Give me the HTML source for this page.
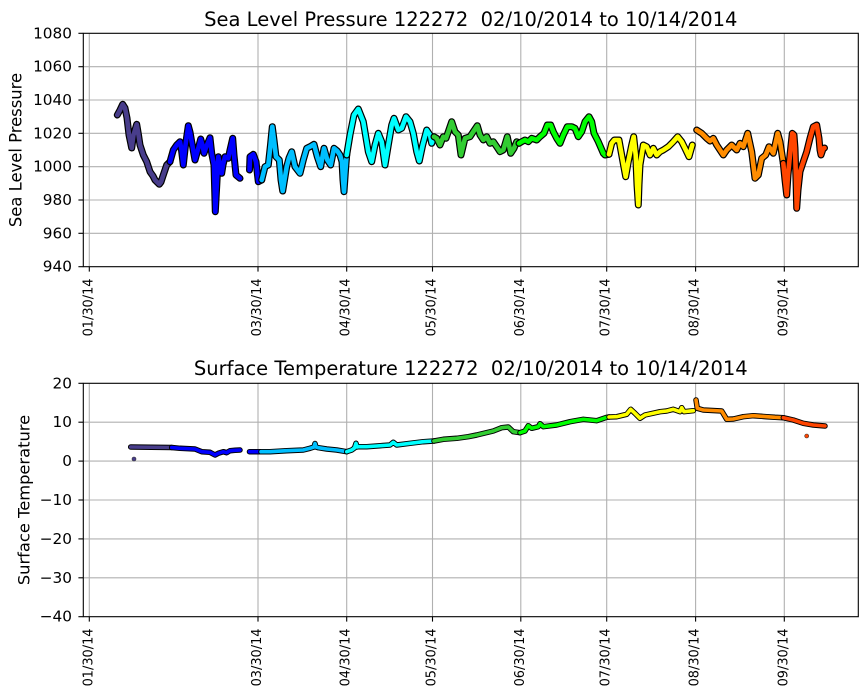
<!DOCTYPE html>
<html><head><meta charset="utf-8"><style>
html,body{margin:0;padding:0;background:#fff;}
svg{display:block;font-family:"DejaVu Sans","Liberation Sans",sans-serif;}
.g{stroke:#b0b0b0;stroke-width:1.1;}
.k{fill:none;stroke:#000;stroke-linejoin:round;stroke-linecap:round;}
.c{fill:none;stroke-linejoin:round;stroke-linecap:round;}
.top .k{stroke-width:7;}
.top .c{stroke-width:4.6;}
.bot .k{stroke-width:5.5;}
.bot .c{stroke-width:3.6;}
.yt{font-size:15.3px;text-anchor:end;dominant-baseline:central;fill:#000;}
.xt{font-size:12.9px;text-anchor:end;dominant-baseline:central;fill:#000;}
</style></head><body>
<svg width="867" height="700" viewBox="0 0 867 700" xmlns="http://www.w3.org/2000/svg">
<rect width="867" height="700" fill="#fff"/>

<!-- ================= TOP AXES ================= -->
<g>
<g class="g">
<line x1="89.3" y1="33.3" x2="89.3" y2="266.7"/>
<line x1="258" y1="33.3" x2="258" y2="266.7"/>
<line x1="346.7" y1="33.3" x2="346.7" y2="266.7"/>
<line x1="432.5" y1="33.3" x2="432.5" y2="266.7"/>
<line x1="520.8" y1="33.3" x2="520.8" y2="266.7"/>
<line x1="606.7" y1="33.3" x2="606.7" y2="266.7"/>
<line x1="695.6" y1="33.3" x2="695.6" y2="266.7"/>
<line x1="784.3" y1="33.3" x2="784.3" y2="266.7"/>
<line x1="83.3" y1="66.7" x2="858.3" y2="66.7"/>
<line x1="83.3" y1="100" x2="858.3" y2="100"/>
<line x1="83.3" y1="133.3" x2="858.3" y2="133.3"/>
<line x1="83.3" y1="166.7" x2="858.3" y2="166.7"/>
<line x1="83.3" y1="200" x2="858.3" y2="200"/>
<line x1="83.3" y1="233.3" x2="858.3" y2="233.3"/>
</g>

<g class="top">
<polyline class="k" points="117.3,115 120,110 122.7,104.3 125,108 127,118 129,135 131.7,148 133.5,135 136.7,124.3 138.5,135 140,145 143.3,155 146.7,161.7 150,171.7 153,176 155,180 157,182 159.3,184.3 161,182 163.3,175 166.7,165 170,161.7"/>
<polyline class="c" stroke="#483D8B" points="117.3,115 120,110 122.7,104.3 125,108 127,118 129,135 131.7,148 133.5,135 136.7,124.3 138.5,135 140,145 143.3,155 146.7,161.7 150,171.7 153,176 155,180 157,182 159.3,184.3 161,182 163.3,175 166.7,165 170,161.7"/>

<polyline class="k" points="170,161.7 173.3,150 176.7,145 180,141.7 181.5,150 183.3,165 185.5,145 188.3,125.7 190,132 191.7,141.7 195,160 198.3,148.3 200.7,139 202.5,145 204,153.3 206.7,145.7 210,137.7 211.7,153.3 214,165 215.3,211.7 216.5,190 218.3,156.7 220,165 221.7,173.3 223,165 225,156.7 228.3,158.3 230,150 232.7,138.3 234,155 236,175 240,178.3"/>
<polyline class="c" stroke="#0000FF" points="170,161.7 173.3,150 176.7,145 180,141.7 181.5,150 183.3,165 185.5,145 188.3,125.7 190,132 191.7,141.7 195,160 198.3,148.3 200.7,139 202.5,145 204,153.3 206.7,145.7 210,137.7 211.7,153.3 214,165 215.3,211.7 216.5,190 218.3,156.7 220,165 221.7,173.3 223,165 225,156.7 228.3,158.3 230,150 232.7,138.3 234,155 236,175 240,178.3"/>

<polyline class="k" points="249.5,170 250,156.7 253.3,154.3 256,161.7 258.3,181.7 261.7,180"/>
<polyline class="c" stroke="#0000FF" points="249.5,170 250,156.7 253.3,154.3 256,161.7 258.3,181.7 261.7,180"/>

<polyline class="k" points="261.7,180 265,166.7 268.3,165 270.5,145 272.3,126.7 274,140 276,156.7 279.3,160 281,180 282.7,191 284.5,180 286.7,166.7 289,158 291.7,151.7 295,166.7 300,173.3 303.3,160 306.7,148.3 310,146.7 314,144.3 317.3,156.7 320.7,166.7 324,148.3 327.3,160 330.7,165 334,148.3 337.3,151 340,155 342,161.7 343,180 344,191.7 345.5,170 346.7,155"/>
<polyline class="c" stroke="#00BFFF" points="261.7,180 265,166.7 268.3,165 270.5,145 272.3,126.7 274,140 276,156.7 279.3,160 281,180 282.7,191 284.5,180 286.7,166.7 289,158 291.7,151.7 295,166.7 300,173.3 303.3,160 306.7,148.3 310,146.7 314,144.3 317.3,156.7 320.7,166.7 324,148.3 327.3,160 330.7,165 334,148.3 337.3,151 340,155 342,161.7 343,180 344,191.7 345.5,170 346.7,155"/>

<polyline class="k" points="346.7,155 350,135 354,115 358.3,109 363.3,121.7 368.3,151.7 371.7,161.7 375,145 378.3,133.3 381.7,141.7 385,165 388.3,145 391.7,125 394,118.3 398.3,130 401.7,128.3 406,116.7 410,121.7 413.3,133.3 416.7,151.7 419.3,161 422.7,145 426.7,130 430,135 431.7,143.3 434,136.7"/>
<polyline class="c" stroke="#00FFFF" points="346.7,155 350,135 354,115 358.3,109 363.3,121.7 368.3,151.7 371.7,161.7 375,145 378.3,133.3 381.7,141.7 385,165 388.3,145 391.7,125 394,118.3 398.3,130 401.7,128.3 406,116.7 410,121.7 413.3,133.3 416.7,151.7 419.3,161 422.7,145 426.7,130 430,135 431.7,143.3 434,136.7"/>

<polyline class="k" points="434,136.7 436.7,138.3 440,145 443.3,136.7 446,138.3 448.3,131.7 451.7,121.7 455,131.7 458.3,135 461,155 465,138.3 470,136.7 473.3,131.7 477.3,125.7 480,135 483.3,140 486.7,136.7 490,143.3 493.3,141.7 496.7,146.7 500,151.7 503.3,150 507.3,136.7 510.7,153.3 514,148.3 516.7,141.7 519,143.3"/>
<polyline class="c" stroke="#32CD32" points="434,136.7 436.7,138.3 440,145 443.3,136.7 446,138.3 448.3,131.7 451.7,121.7 455,131.7 458.3,135 461,155 465,138.3 470,136.7 473.3,131.7 477.3,125.7 480,135 483.3,140 486.7,136.7 490,143.3 493.3,141.7 496.7,146.7 500,151.7 503.3,150 507.3,136.7 510.7,153.3 514,148.3 516.7,141.7 519,143.3"/>

<polyline class="k" points="519,143.3 521.7,141.7 525,140 528.3,141.7 531.7,138.3 536.7,140 540,136.7 544,133.3 547.3,125 550.7,125 553.3,131.7 556.7,138.3 560,143.3 563.3,135 567.3,126.7 571.7,126.7 575,128.3 578.3,136.7 581.7,131.7 585,121.7 589,116.7 591.7,121.7 594,133.3 598.3,141.7 603.3,153.3 605,155 609,154.3"/>
<polyline class="c" stroke="#00FF00" points="519,143.3 521.7,141.7 525,140 528.3,141.7 531.7,138.3 536.7,140 540,136.7 544,133.3 547.3,125 550.7,125 553.3,131.7 556.7,138.3 560,143.3 563.3,135 567.3,126.7 571.7,126.7 575,128.3 578.3,136.7 581.7,131.7 585,121.7 589,116.7 591.7,121.7 594,133.3 598.3,141.7 603.3,153.3 605,155 609,154.3"/>

<polyline class="k" points="609,154.3 611.7,143.3 614.3,140 619,140 621.7,155 625.7,176.7 628.3,161.7 631.7,145 633.7,136.7 635.7,155 637,185 638.3,205 639,185 640,165 643.3,145 646.7,146.7 650,155 653.3,148.3 656.7,155 660,151.7 663.3,150 668.3,146.7 673.3,141.7 677.7,136.7 681.7,141.7 685,148.3 689,156.7 692.3,145"/>
<polyline class="c" stroke="#FFFF00" points="609,154.3 611.7,143.3 614.3,140 619,140 621.7,155 625.7,176.7 628.3,161.7 631.7,145 633.7,136.7 635.7,155 637,185 638.3,205 639,185 640,165 643.3,145 646.7,146.7 650,155 653.3,148.3 656.7,155 660,151.7 663.3,150 668.3,146.7 673.3,141.7 677.7,136.7 681.7,141.7 685,148.3 689,156.7 692.3,145"/>

<polyline class="k" points="696.7,130 701.7,133.3 706.7,138.3 710,141 713.3,138.3 716.7,145 720,150 723.3,155 726.7,150 731.7,145 736.7,150 740,143.3 743.3,146.7 747.7,133.3 751.7,151.7 755,178.3 758.3,175 761.7,158.3 765.7,155 769,146.7 773.3,153.3 777.7,133.3 780,141.7 783.3,163.3"/>
<polyline class="c" stroke="#FF8C00" points="696.7,130 701.7,133.3 706.7,138.3 710,141 713.3,138.3 716.7,145 720,150 723.3,155 726.7,150 731.7,145 736.7,150 740,143.3 743.3,146.7 747.7,133.3 751.7,151.7 755,178.3 758.3,175 761.7,158.3 765.7,155 769,146.7 773.3,153.3 777.7,133.3 780,141.7 783.3,163.3"/>

<polyline class="k" points="783.3,163.3 785,180 786.7,195 788,175 790,155 792.3,133.3 794,135 795,148.3 796,180 796.7,208.3 798,190 800,171.7 803.3,161.7 806.7,151.7 810,138.3 813.3,126.7 816.7,125 819,138.3 820,150 821,155 823.3,148.3 824.5,148"/>
<polyline class="c" stroke="#FF4500" points="783.3,163.3 785,180 786.7,195 788,175 790,155 792.3,133.3 794,135 795,148.3 796,180 796.7,208.3 798,190 800,171.7 803.3,161.7 806.7,151.7 810,138.3 813.3,126.7 816.7,125 819,138.3 820,150 821,155 823.3,148.3 824.5,148"/>
</g>

<rect x="83.3" y="33.3" width="775" height="233.4" fill="none" stroke="#000" stroke-width="1.1"/>
<g stroke="#000" stroke-width="1.1">
<line x1="78.4" y1="33.3" x2="83.3" y2="33.3"/>
<line x1="78.4" y1="66.7" x2="83.3" y2="66.7"/>
<line x1="78.4" y1="100" x2="83.3" y2="100"/>
<line x1="78.4" y1="133.3" x2="83.3" y2="133.3"/>
<line x1="78.4" y1="166.7" x2="83.3" y2="166.7"/>
<line x1="78.4" y1="200" x2="83.3" y2="200"/>
<line x1="78.4" y1="233.3" x2="83.3" y2="233.3"/>
<line x1="78.4" y1="266.7" x2="83.3" y2="266.7"/>
<line x1="89.3" y1="266.7" x2="89.3" y2="271.6"/>
<line x1="258" y1="266.7" x2="258" y2="271.6"/>
<line x1="346.7" y1="266.7" x2="346.7" y2="271.6"/>
<line x1="432.5" y1="266.7" x2="432.5" y2="271.6"/>
<line x1="520.8" y1="266.7" x2="520.8" y2="271.6"/>
<line x1="606.7" y1="266.7" x2="606.7" y2="271.6"/>
<line x1="695.6" y1="266.7" x2="695.6" y2="271.6"/>
<line x1="784.3" y1="266.7" x2="784.3" y2="271.6"/>
</g>
<g class="yt">
<text x="72" y="33.3">1080</text>
<text x="72" y="66.7">1060</text>
<text x="72" y="100">1040</text>
<text x="72" y="133.3">1020</text>
<text x="72" y="166.7">1000</text>
<text x="72" y="200">980</text>
<text x="72" y="233.3">960</text>
<text x="72" y="266.7">940</text>
</g>
<g class="xt">
<text transform="translate(88.8,278.5) rotate(-90)">01/30/14</text>
<text transform="translate(257.5,278.5) rotate(-90)">03/30/14</text>
<text transform="translate(346.2,278.5) rotate(-90)">04/30/14</text>
<text transform="translate(432,278.5) rotate(-90)">05/30/14</text>
<text transform="translate(520.3,278.5) rotate(-90)">06/30/14</text>
<text transform="translate(606.2,278.5) rotate(-90)">07/30/14</text>
<text transform="translate(695.1,278.5) rotate(-90)">08/30/14</text>
<text transform="translate(783.8,278.5) rotate(-90)">09/30/14</text>
</g>
<text x="470.8" y="26" font-size="19.5" text-anchor="middle" fill="#000" xml:space="preserve">Sea Level Pressure 122272  02/10/2014 to 10/14/2014</text>
<text transform="translate(16,150) rotate(-90)" font-size="16.4" text-anchor="middle" dominant-baseline="central" fill="#000">Sea Level Pressure</text>
</g>

<!-- ================= BOTTOM AXES ================= -->
<g>
<g class="g">
<line x1="89.3" y1="383.3" x2="89.3" y2="616.7"/>
<line x1="258" y1="383.3" x2="258" y2="616.7"/>
<line x1="346.7" y1="383.3" x2="346.7" y2="616.7"/>
<line x1="432.5" y1="383.3" x2="432.5" y2="616.7"/>
<line x1="520.8" y1="383.3" x2="520.8" y2="616.7"/>
<line x1="606.7" y1="383.3" x2="606.7" y2="616.7"/>
<line x1="695.6" y1="383.3" x2="695.6" y2="616.7"/>
<line x1="784.3" y1="383.3" x2="784.3" y2="616.7"/>
<line x1="83.3" y1="422.2" x2="858.3" y2="422.2"/>
<line x1="83.3" y1="461.1" x2="858.3" y2="461.1"/>
<line x1="83.3" y1="500" x2="858.3" y2="500"/>
<line x1="83.3" y1="538.9" x2="858.3" y2="538.9"/>
<line x1="83.3" y1="577.8" x2="858.3" y2="577.8"/>
</g>

<g class="bot">
<polyline class="k" points="130.7,447 171.7,447.5"/>
<polyline class="c" stroke="#483D8B" points="130.7,447 171.7,447.5"/>
<circle cx="134" cy="459" r="2" fill="#483D8B" stroke="#333" stroke-width="0.6"/>

<polyline class="k" points="171.7,447.5 180,448.3 195,449 201.7,451.7 210,452.3 215,455 218.3,453.3 223.3,451.7 226.7,452.7 230,450.7 235,450.3 240,450"/>
<polyline class="c" stroke="#0000FF" points="171.7,447.5 180,448.3 195,449 201.7,451.7 210,452.3 215,455 218.3,453.3 223.3,451.7 226.7,452.7 230,450.7 235,450.3 240,450"/>

<polyline class="k" points="249.5,451.7 258.3,451.7 261,451.7"/>
<polyline class="c" stroke="#0000FF" points="249.5,451.7 258.3,451.7 261,451.7"/>

<polyline class="k" points="261,451.7 270,451.7 286.7,450.7 303.3,450 310,448.3 314,447 315,443.5 316,447 318.3,447.7 326.7,449 336.7,450 346.7,451.7"/>
<polyline class="c" stroke="#00BFFF" points="261,451.7 270,451.7 286.7,450.7 303.3,450 310,448.3 314,447 315,443.5 316,447 318.3,447.7 326.7,449 336.7,450 346.7,451.7"/>

<polyline class="k" points="346.7,451.7 351.7,450 354.5,448 356,443.3 357,447 358.3,446.7 366.7,446.7 376.7,446 390,445 393.3,442.3 396.7,445 410,443.3 423.3,441.7 434,441"/>
<polyline class="c" stroke="#00FFFF" points="346.7,451.7 351.7,450 354.5,448 356,443.3 357,447 358.3,446.7 366.7,446.7 376.7,446 390,445 393.3,442.3 396.7,445 410,443.3 423.3,441.7 434,441"/>

<polyline class="k" points="434,441 443.3,439.3 456.7,438.3 468.3,436.7 476.7,435 493.3,431 501.7,427.7 508.3,427 513.3,431.7 520,432.7"/>
<polyline class="c" stroke="#32CD32" points="434,441 443.3,439.3 456.7,438.3 468.3,436.7 476.7,435 493.3,431 501.7,427.7 508.3,427 513.3,431.7 520,432.7"/>

<polyline class="k" points="520,432.7 525,431 528.3,425.7 531.7,428.3 538.3,426.7 540,423.7 543.3,426.7 556.7,425 570,421.7 583.3,419.3 596.7,420.7 606.7,417.3 609,417"/>
<polyline class="c" stroke="#00FF00" points="520,432.7 525,431 528.3,425.7 531.7,428.3 538.3,426.7 540,423.7 543.3,426.7 556.7,425 570,421.7 583.3,419.3 596.7,420.7 606.7,417.3 609,417"/>

<polyline class="k" points="609,417 616.7,416.7 626.7,414.3 630.7,409.3 635,413.3 640,418.3 645,415 660,411.7 666.7,411 673.3,409.3 680,411.7 681.7,407.7 684,411.7 693.3,410.7"/>
<polyline class="c" stroke="#FFFF00" points="609,417 616.7,416.7 626.7,414.3 630.7,409.3 635,413.3 640,418.3 645,415 660,411.7 666.7,411 673.3,409.3 680,411.7 681.7,407.7 684,411.7 693.3,410.7"/>

<polyline class="k" points="696,400 697.3,408.3 703.3,410 721.7,411 726.7,419.3 733.3,419 743.3,416.7 753.3,415.7 766.7,416.7 775,417.3 783.3,417.7"/>
<polyline class="c" stroke="#FF8C00" points="696,400 697.3,408.3 703.3,410 721.7,411 726.7,419.3 733.3,419 743.3,416.7 753.3,415.7 766.7,416.7 775,417.3 783.3,417.7"/>

<polyline class="k" points="783.3,417.7 793.3,420 803.3,423.3 813.3,425 825,426"/>
<polyline class="c" stroke="#FF4500" points="783.3,417.7 793.3,420 803.3,423.3 813.3,425 825,426"/>
<circle cx="806.7" cy="436" r="2" fill="#FF4500" stroke="#333" stroke-width="0.6"/>
</g>

<rect x="83.3" y="383.3" width="775" height="233.4" fill="none" stroke="#000" stroke-width="1.1"/>
<g stroke="#000" stroke-width="1.1">
<line x1="78.4" y1="383.3" x2="83.3" y2="383.3"/>
<line x1="78.4" y1="422.2" x2="83.3" y2="422.2"/>
<line x1="78.4" y1="461.1" x2="83.3" y2="461.1"/>
<line x1="78.4" y1="500" x2="83.3" y2="500"/>
<line x1="78.4" y1="538.9" x2="83.3" y2="538.9"/>
<line x1="78.4" y1="577.8" x2="83.3" y2="577.8"/>
<line x1="78.4" y1="616.7" x2="83.3" y2="616.7"/>
<line x1="89.3" y1="616.7" x2="89.3" y2="621.6"/>
<line x1="258" y1="616.7" x2="258" y2="621.6"/>
<line x1="346.7" y1="616.7" x2="346.7" y2="621.6"/>
<line x1="432.5" y1="616.7" x2="432.5" y2="621.6"/>
<line x1="520.8" y1="616.7" x2="520.8" y2="621.6"/>
<line x1="606.7" y1="616.7" x2="606.7" y2="621.6"/>
<line x1="695.6" y1="616.7" x2="695.6" y2="621.6"/>
<line x1="784.3" y1="616.7" x2="784.3" y2="621.6"/>
</g>
<g class="yt">
<text x="72" y="383.3">20</text>
<text x="72" y="422.2">10</text>
<text x="72" y="461.1">0</text>
<text x="72" y="500">−10</text>
<text x="72" y="538.9">−20</text>
<text x="72" y="577.8">−30</text>
<text x="72" y="616.7">−40</text>
</g>
<g class="xt">
<text transform="translate(88.8,628.5) rotate(-90)">01/30/14</text>
<text transform="translate(257.5,628.5) rotate(-90)">03/30/14</text>
<text transform="translate(346.2,628.5) rotate(-90)">04/30/14</text>
<text transform="translate(432,628.5) rotate(-90)">05/30/14</text>
<text transform="translate(520.3,628.5) rotate(-90)">06/30/14</text>
<text transform="translate(606.2,628.5) rotate(-90)">07/30/14</text>
<text transform="translate(695.1,628.5) rotate(-90)">08/30/14</text>
<text transform="translate(783.8,628.5) rotate(-90)">09/30/14</text>
</g>
<text x="470.8" y="375" font-size="19.5" text-anchor="middle" fill="#000" xml:space="preserve">Surface Temperature 122272  02/10/2014 to 10/14/2014</text>
<text transform="translate(24,500) rotate(-90)" font-size="16.3" text-anchor="middle" dominant-baseline="central" fill="#000">Surface Temperature</text>
</g>
</svg>
</body></html>
